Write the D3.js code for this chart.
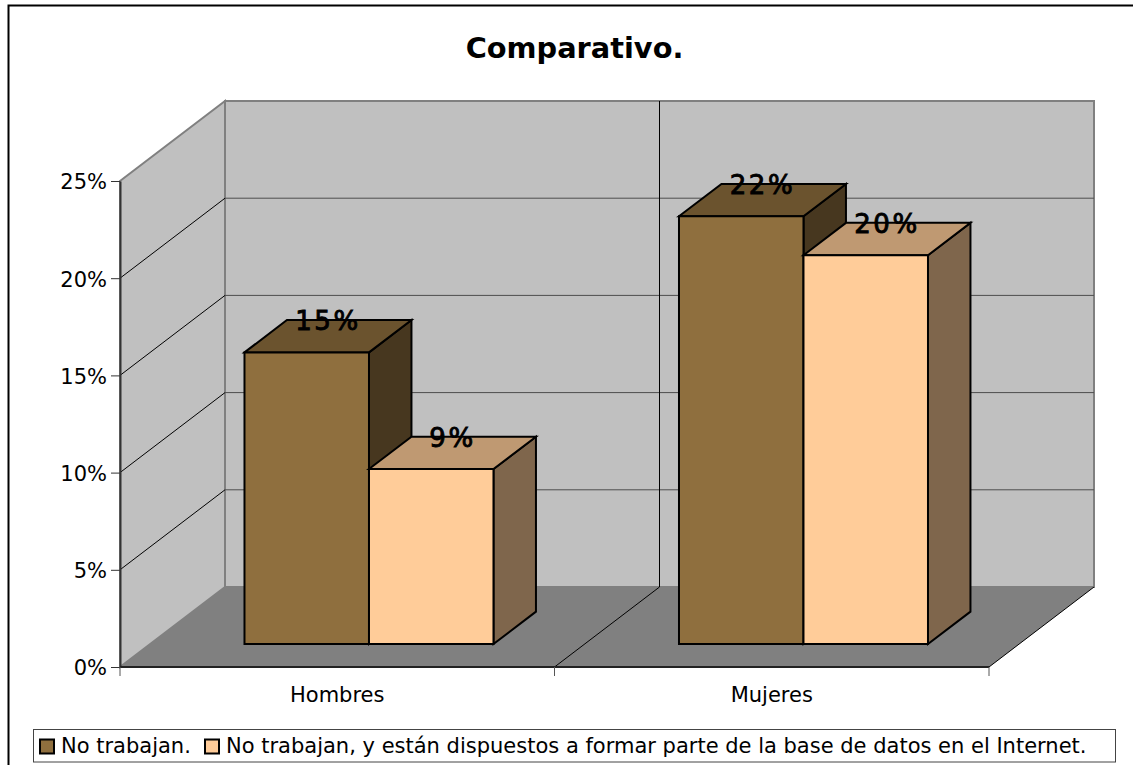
<!DOCTYPE html>
<html>
<head>
<meta charset="utf-8">
<script src="https://cdn.jsdelivr.net/npm/d3@7/dist/d3.min.js"></script>
<style>
  html, body { margin: 0; padding: 0; background: #fff; }
  svg { display: block; }
  text { font-family: "DejaVu Sans", Verdana, sans-serif; fill: #000; }
</style>
</head>
<body>
<svg id="chart" width="1133" height="765"></svg>
<script>
const categories = ["Hombres", "Mujeres"];
const seriesNames = ["No trabajan.", "No trabajan, y están dispuestos a formar parte de la base de datos en el Internet."];
const noTrabajan = [15, 22];
const dispuestos = [9, 20];
const yTicks = [0, 5, 10, 15, 20, 25];
const chartTitle = "Comparativo.";

const svg = d3.select("#chart");

// Oblique projection: depth in [0, 1] runs from the front plane to the back wall.
const depthX = 105, depthY = -80;
const x = d3.scaleBand().domain(categories).range([120, 989]);
const y = d3.scaleLinear().domain([0, 25]).range([667, 181]);
const px = (vx, d) => vx + depthX * d;
const py = (v, d) => y(v) + depthY * d;
const poly = pts => pts.map(p => p.join(",")).join(" ");
const seg = d3.line();

// Frame: only the top and left edges fall inside the page
svg.append("path").attr("fill", "none").attr("stroke", "#000").attr("stroke-width", 2)
  .attr("d", seg([[8.5, 765], [8.5, 5.5], [1133, 5.5]]));

// Chart title
svg.append("text").attr("x", 574.5).attr("y", 58).attr("text-anchor", "middle")
  .attr("font-size", 28.8).attr("font-weight", "bold").text(chartTitle);

const [x0, x1] = x.range();
const wallStroke = "#808080";

// Back wall, side wall and floor
svg.append("polygon").attr("fill", "#c0c0c0").attr("stroke", wallStroke).attr("stroke-width", 2)
  .attr("points", poly([[px(x0, 1), py(25, 1)], [px(x1, 1), py(25, 1)], [px(x1, 1), py(0, 1)], [px(x0, 1), py(0, 1)]]));
svg.append("polygon").attr("fill", "#c0c0c0").attr("stroke", wallStroke).attr("stroke-width", 2)
  .attr("points", poly([[x0, y(25)], [px(x0, 1), py(25, 1)], [px(x0, 1), py(0, 1)], [x0, y(0)]]));
svg.append("polygon").attr("fill", "#808080").attr("stroke", "none")
  .attr("points", poly([[x0, y(0)], [px(x0, 1), py(0, 1)], [px(x1, 1), py(0, 1)], [x1, y(0)]]));

// Gridlines along the side wall and across the back wall
const grid = svg.append("g").attr("fill", "none").attr("stroke", "#000");
yTicks.filter(t => t > 0 && t < 25).forEach(t => {
  grid.append("path").attr("stroke-width", 1)
    .attr("d", seg([[x0, y(t)], [px(x0, 1), py(t, 1)]]));
  grid.append("path").attr("stroke", "#4d4d4d").attr("stroke-width", 1)
    .attr("d", seg([[px(x0, 1), py(t, 1)], [px(x1, 1), py(t, 1)]]));
});

// Category divider on the back wall and floor
const mid = x(categories[1]);
grid.append("path").attr("stroke-width", 1)
  .attr("d", seg([[mid, y(0)], [px(mid, 1), py(0, 1)], [px(mid, 1), py(25, 1)]]));
grid.append("path").attr("stroke-width", 1)
  .attr("d", seg([[x1, y(0)], [px(x1, 1), py(0, 1)]]));

// Axes
svg.append("g").attr("transform", `translate(${x0},0)`)
  .call(d3.axisLeft(y).tickValues(yTicks).tickFormat(d => d + "%").tickSize(9).tickSizeOuter(0).tickPadding(4))
  .call(g => {
    g.selectAll("text").attr("font-size", 21).attr("font-family", '"DejaVu Sans"').attr("dy", "0.38em");
    g.selectAll("line").attr("stroke", "#333");
    g.select(".domain").attr("stroke", "#333").attr("stroke-width", 2);
  });
svg.append("path").attr("stroke", "#222").attr("stroke-width", 2).attr("fill", "none")
  .attr("d", seg([[x0, y(0)], [x1, y(0)]]));
const xTicks = [x0, mid, x1];
svg.selectAll(".xtick").data(xTicks).enter().append("line").attr("class", "xtick")
  .attr("x1", d => d).attr("x2", d => d).attr("y1", y(0)).attr("y2", y(0) + 9)
  .attr("stroke", "#555").attr("stroke-width", 1);
svg.selectAll(".xlabel").data(categories).enter().append("text").attr("class", "xlabel")
  .attr("x", d => x(d) + x.bandwidth() / 2).attr("y", 702).attr("text-anchor", "middle")
  .attr("font-size", 21).text(d => d);

// 3D bars
const barW = 124.5, frontD = 0.2875, backD = 0.692;
const gapX = 94.3;
const series = [
  { values: noTrabajan, front: "#8f6f3e", top: "#6b532e", side: "#47371f" },
  { values: dispuestos, front: "#ffcc99", top: "#bf9972", side: "#7f664c" }
];
const bars = svg.append("g").attr("stroke", "#000").attr("stroke-width", 2).attr("stroke-linejoin", "miter");
const labels = [];
categories.forEach((c, ci) => {
  series.forEach((s, si) => {
    const v = s.values[ci];
    const ax = px(x(c) + gapX + si * barW, frontD), bx = ax + barW;
    const dx = depthX * (backD - frontD), dy = depthY * (backD - frontD);
    const yTop = py(v, frontD), yBot = py(0, frontD);
    bars.append("polygon").attr("fill", s.side)
      .attr("points", poly([[bx, yTop], [bx + dx, yTop + dy], [bx + dx, yBot + dy], [bx, yBot]]));
    bars.append("polygon").attr("fill", s.top)
      .attr("points", poly([[ax, yTop], [ax + dx, yTop + dy], [bx + dx, yTop + dy], [bx, yTop]]));
    bars.append("polygon").attr("fill", s.front)
      .attr("points", poly([[ax, yTop], [bx, yTop], [bx, yBot], [ax, yBot]]));
    labels.push({ x: (ax + bx) / 2 + dx / 2, y: yTop - 22, t: v + "%" });
  });
});
svg.selectAll(".value").data(labels).enter().append("text").attr("class", "value")
  .attr("x", d => d.x).attr("y", d => d.y).attr("text-anchor", "middle")
  .attr("font-size", 26).attr("letter-spacing", 2.5)
  .attr("stroke", "#000").attr("stroke-width", 0.9).text(d => d.t);

// Legend
const legend = svg.append("g");
legend.append("rect").attr("x", 33.5).attr("y", 729.5).attr("width", 1082).attr("height", 32.5)
  .attr("fill", "#fff").attr("stroke", "#444").attr("stroke-width", 1);
const items = [{ sx: 40, tx: 61, fill: series[0].front }, { sx: 205, tx: 226, fill: series[1].front }];
items.forEach((it, i) => {
  legend.append("rect").attr("x", it.sx).attr("y", 739.5).attr("width", 14).attr("height", 14)
    .attr("fill", it.fill).attr("stroke", "#000").attr("stroke-width", 2);
  legend.append("text").attr("x", it.tx).attr("y", 753).attr("font-size", 21).text(seriesNames[i]);
});
</script>
</body>
</html>
